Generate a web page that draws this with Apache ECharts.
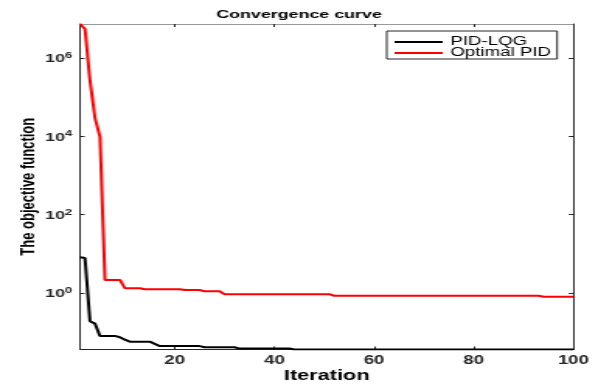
<!DOCTYPE html>
<html>
<head>
<meta charset="utf-8">
<script src="https://cdn.jsdelivr.net/npm/echarts@6/dist/echarts.min.js"></script>
<style>
  html, body { margin: 0; padding: 0; background: #fff; overflow: hidden; }
  #wrap { width: 598px; height: 385px; overflow: hidden; position: relative; }
  /* the figure is drawn square and stretched to the page width */
  #chart { width: 385px; height: 385px; transform: scaleX(1.5532); transform-origin: 0 0; }
</style>
</head>
<body>
<div id="wrap"><div id="chart"></div></div>
<script>
// Iteration index, 1..100
const iterations = Array.from({ length: 100 }, (_, i) => i + 1);

// Best objective value per iteration, PID-LQG
const pidLqg = [
  8.2, 7.8, 0.19, 0.165, 0.080, 0.080, 0.080, 0.080, 0.074, 0.064,
  0.057, 0.057, 0.057, 0.057, 0.057, 0.050, 0.044, 0.044, 0.044, 0.044,
  0.044, 0.044, 0.044, 0.044, 0.044, 0.041, 0.041, 0.041, 0.041, 0.041,
  0.041, 0.041, 0.038, 0.038, 0.038, 0.038, 0.038, 0.038, 0.038, 0.038,
  0.038, 0.038, 0.038, 0.036, 0.036, 0.036, 0.036, 0.036, 0.036, 0.036,
  0.036, 0.036, 0.036, 0.036, 0.036, 0.036, 0.036, 0.036, 0.036, 0.036,
  0.036, 0.036, 0.036, 0.036, 0.036, 0.036, 0.036, 0.036, 0.036, 0.036,
  0.036, 0.036, 0.036, 0.036, 0.036, 0.036, 0.036, 0.036, 0.036, 0.036,
  0.036, 0.036, 0.036, 0.036, 0.036, 0.036, 0.036, 0.036, 0.036, 0.036,
  0.036, 0.036, 0.036, 0.036, 0.036, 0.036, 0.036, 0.036, 0.036, 0.036
];

// Best objective value per iteration, Optimal PID
const optimalPid = [
  7.4e6, 5.5e6, 2.6e5, 2.95e4, 9.7e3, 2.15, 2.15, 2.15, 2.15, 1.32,
  1.32, 1.32, 1.32, 1.25, 1.25, 1.25, 1.25, 1.25, 1.25, 1.25,
  1.25, 1.19, 1.19, 1.19, 1.19, 1.10, 1.10, 1.10, 1.10, 0.93,
  0.93, 0.93, 0.93, 0.93, 0.93, 0.93, 0.93, 0.93, 0.93, 0.93,
  0.93, 0.93, 0.93, 0.93, 0.93, 0.93, 0.93, 0.93, 0.93, 0.93,
  0.93, 0.85, 0.85, 0.85, 0.85, 0.85, 0.85, 0.85, 0.85, 0.85,
  0.85, 0.85, 0.85, 0.85, 0.85, 0.85, 0.85, 0.85, 0.85, 0.85,
  0.85, 0.85, 0.85, 0.85, 0.85, 0.85, 0.85, 0.85, 0.85, 0.85,
  0.85, 0.85, 0.85, 0.85, 0.85, 0.85, 0.85, 0.85, 0.85, 0.85,
  0.85, 0.85, 0.85, 0.80, 0.80, 0.80, 0.80, 0.80, 0.80, 0.80
];

const seriesNames = ['PID-LQG', 'Optimal PID'];
const xTickValues = [20, 40, 60, 80, 100];
const yTickValues = [1, 1e2, 1e4, 1e6];

const FONT = '"Liberation Sans", Arial, Helvetica, sans-serif';
const AXIS = '#262626';

const pairs = (ys) => iterations.map((x, i) => [x, ys[i]]);
const yMin = Math.min(...pidLqg, ...optimalPid);
const yMax = Math.max(...pidLqg, ...optimalPid);

const chart = echarts.init(document.getElementById('chart'), null, { renderer: 'canvas' });

chart.setOption({
  animation: false,
  backgroundColor: '#fff',
  title: {
    text: 'Convergence curve',
    left: 'center',
    top: 4,
    textStyle: { fontFamily: FONT, fontWeight: 'bold', fontSize: 11.5, color: '#000' }
  },
  legend: {
    orient: 'vertical',
    left: 249,
    top: 31,
    padding: [5, 4, 0, 5],
    itemGap: -1,
    itemWidth: 31,
    itemHeight: 2,
    icon: 'rect',
    borderColor: AXIS,
    borderWidth: 1,
    backgroundColor: '#fff',
    data: seriesNames,
    textStyle: { fontFamily: FONT, fontSize: 12, color: '#000' }
  },
  grid: { left: 51.5, right: 15.8, top: 24, bottom: 35.5, outerBoundsMode: 'none', containLabel: false },
  xAxis: [
    {
      type: 'value', min: 1, max: 100, position: 'bottom',
      name: 'Iteration', nameLocation: 'middle', nameGap: 20, nameMoveOverlap: false,
      nameTextStyle: { fontFamily: FONT, fontWeight: 'bold', fontSize: 14, color: '#000' },
      axisLine: { lineStyle: { color: AXIS, width: 1 } },
      axisTick: { inside: true, length: 3, customValues: xTickValues, lineStyle: { color: AXIS } },
      axisLabel: { customValues: xTickValues, margin: 5, fontFamily: FONT, fontWeight: 'bold', fontSize: 12, color: AXIS },
      splitLine: { show: false }
    },
    {
      type: 'value', min: 1, max: 100, position: 'top',
      axisLine: { lineStyle: { color: '#999', width: 1 } },
      axisTick: { inside: true, length: 3, customValues: xTickValues, lineStyle: { color: AXIS } },
      axisLabel: { show: false },
      splitLine: { show: false }
    }
  ],
  yAxis: [
    {
      type: 'log', logBase: 10, min: yMin, max: yMax, position: 'left',
      name: 'The objective function', nameLocation: 'middle', nameGap: 27, nameRotate: 90,
      nameMoveOverlap: false,
      nameTextStyle: { fontFamily: FONT, fontWeight: 'bold', fontSize: 13, color: '#000' },
      axisLine: { lineStyle: { color: AXIS, width: 1 } },
      axisTick: { inside: true, length: 3, customValues: yTickValues, lineStyle: { color: AXIS } },
      axisLabel: {
        customValues: yTickValues, margin: 5,
        formatter: (v) => '{b|10}{s|' + Math.round(Math.log10(v)) + '}',
        rich: {
          b: { fontFamily: FONT, fontWeight: 'bold', fontSize: 11.5, color: AXIS, lineHeight: 14, verticalAlign: 'bottom' },
          s: { fontFamily: FONT, fontWeight: 'bold', fontSize: 8.5, color: AXIS, lineHeight: 8, verticalAlign: 'top' }
        }
      },
      splitLine: { show: false }
    },
    {
      type: 'log', logBase: 10, min: yMin, max: yMax, position: 'right',
      axisLine: { lineStyle: { color: AXIS, width: 1 } },
      axisTick: { inside: true, length: 3, customValues: yTickValues, lineStyle: { color: AXIS } },
      axisLabel: { show: false },
      splitLine: { show: false }
    }
  ],
  series: [
    {
      name: seriesNames[0], type: 'line', xAxisIndex: 0, yAxisIndex: 0,
      data: pairs(pidLqg), symbol: 'none', showSymbol: false,
      lineStyle: { color: '#000', width: 2 }, itemStyle: { color: '#000' }, z: 3
    },
    {
      name: seriesNames[1], type: 'line', xAxisIndex: 0, yAxisIndex: 0,
      data: pairs(optimalPid), symbol: 'none', showSymbol: false,
      lineStyle: { color: '#ff0000', width: 2 }, itemStyle: { color: '#ff0000' }, z: 2
    }
  ]
});
</script>
</body>
</html>
